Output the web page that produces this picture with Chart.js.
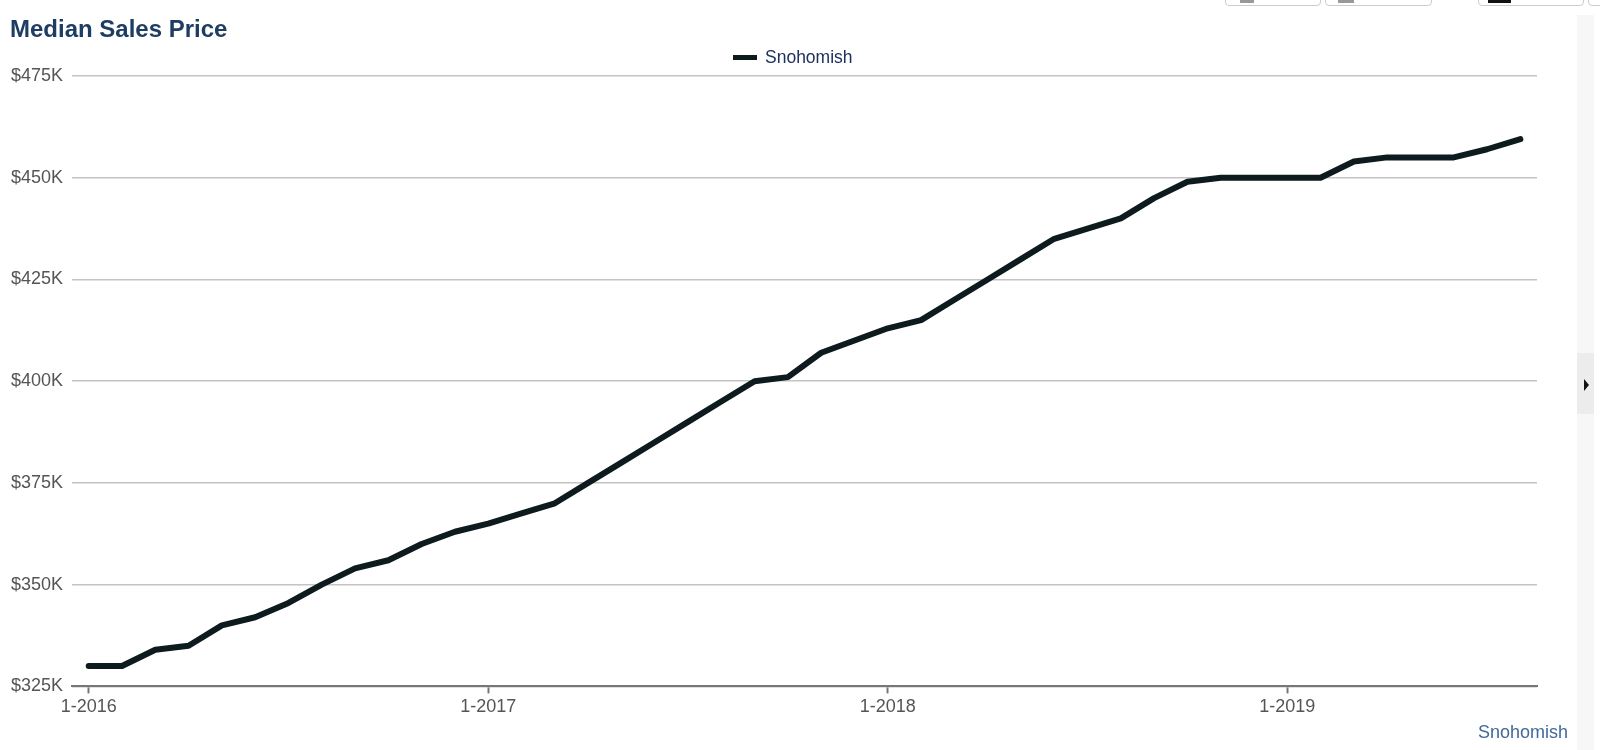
<!DOCTYPE html>
<html>
<head>
<meta charset="utf-8">
<script src="https://cdn.jsdelivr.net/npm/chart.js@4.4.0/dist/chart.umd.min.js"></script>
<style>
	html, body { margin: 0; padding: 0; background: #fff; width: 1600px; height: 750px; overflow: hidden; font-family: "Liberation Sans", Arial, Helvetica, sans-serif; }
	.title { position: absolute; left: 10px; top: 17px; font-size: 24px; font-weight: bold; color: #1f3d63; line-height: 1; }
	.legend { position: absolute; left: 733px; top: 49px; display: flex; align-items: center; font-size: 17.5px; color: #1d3160; line-height: 1; }
	.legend .swatch { width: 24px; height: 5px; background: #0d1b1e; margin-right: 8px; }
	.corner { position: absolute; right: 32px; top: 723px; font-size: 18px; color: #41699a; line-height: 1; }
	.wrap { position: absolute; left: 0; top: 0; width: 1577px; height: 750px; }
	.side { position: absolute; left: 1577px; top: 15px; width: 17px; bottom: 0; background: #f7f7f7; }
	.side .tab { position: absolute; left: 0; top: 338px; width: 17px; height: 61px; background: #ececec; }
	.side .arrow { position: absolute; left: 7px; top: 26px; width: 0; height: 0; border-left: 5px solid #111; border-top: 6px solid transparent; border-bottom: 6px solid transparent; }
	.btn { position: absolute; top: -25px; height: 29px; border: 1px solid #ccc; border-radius: 4px; background: #fff; }
	.btn .ic { position: absolute; bottom: 2px; height: 4px; }
</style>
</head>
<body>
<div class="wrap"><canvas id="priceChart"></canvas></div>
<div class="title">Median Sales Price</div>
<div class="legend"><span class="swatch"></span><span>Snohomish</span></div>
<div class="corner">Snohomish</div>
<div class="side"><div class="tab"><div class="arrow"></div></div></div>
<div class="btn" style="left:1225px;width:94px;"><div class="ic" style="left:14px;width:14px;background:#999;"></div></div>
<div class="btn" style="left:1325px;width:105px;"><div class="ic" style="left:12px;width:16px;background:#999;"></div></div>
<div class="btn" style="left:1478px;width:104px;"><div class="ic" style="left:9px;width:23px;background:#111;"></div></div>
<div class="btn" style="left:1588px;width:40px;"></div>
<script>
const months = [
	"1-2016", "2-2016", "3-2016", "4-2016", "5-2016", "6-2016", "7-2016", "8-2016", "9-2016", "10-2016", "11-2016", "12-2016",
	"1-2017", "2-2017", "3-2017", "4-2017", "5-2017", "6-2017", "7-2017", "8-2017", "9-2017", "10-2017", "11-2017", "12-2017",
	"1-2018", "2-2018", "3-2018", "4-2018", "5-2018", "6-2018", "7-2018", "8-2018", "9-2018", "10-2018", "11-2018", "12-2018",
	"1-2019", "2-2019", "3-2019", "4-2019", "5-2019", "6-2019", "7-2019", "8-2019"
];
const snohomishPrice = [
	330000, 330000, 334000, 335000, 340000, 342000, 345500, 350000, 354000, 356000, 360000, 363000,
	365000, 367500, 370000, 375000, 380000, 385000, 390000, 395000, 400000, 401000, 407000, 410000,
	413000, 415000, 420000, 425000, 430000, 435000, 437500, 440000, 445000, 449000, 450000, 450000,
	450000, 450000, 454000, 455000, 455000, 455000, 457000, 459500
];
const yMin = 325000;
const yMax = 475000;
const yStep = 25000;

document.addEventListener("DOMContentLoaded", function () {
	Chart.defaults.font.family = '"Liberation Sans", Arial, Helvetica, sans-serif';
	const ctx = document.getElementById("priceChart").getContext("2d");

	new Chart(ctx, {
		type: "line",
		data: {
			labels: months,
			datasets: [
				{
					label: "Snohomish",
					data: snohomishPrice,
					borderColor: "#0d1b1e",
					backgroundColor: "#0d1b1e",
					borderWidth: 6,
					borderCapStyle: "round",
					borderJoinStyle: "round",
					pointRadius: 0,
					tension: 0,
				},
			],
		},
		options: {
			responsive: true,
			maintainAspectRatio: false,
			animation: false,
			layout: {
				padding: { left: 2, right: 40, top: 76, bottom: 29 },
			},
			plugins: {
				legend: { display: false },
				title: { display: false },
				tooltip: { enabled: false },
			},
			scales: {
				x: {
					offset: true,
					border: { display: true, color: "#777", width: 2 },
					grid: {
						drawOnChartArea: false,
						drawTicks: true,
						tickLength: 7,
						tickWidth: 2,
						tickColor: function (c) {
							return months[c.index] && months[c.index].indexOf("1-") === 0 ? "#777" : "rgba(0,0,0,0)";
						},
					},
					ticks: {
						autoSkip: false,
						maxRotation: 0,
						padding: 3,
						color: "#555",
						font: { size: 18 },
						callback: function (value) {
							const l = this.getLabelForValue(value);
							return l.indexOf("1-") === 0 ? l : "";
						},
					},
				},
				y: {
					min: yMin,
					max: yMax,
					border: { display: false },
					grid: { color: "#c4c4c4", lineWidth: 1.5, drawTicks: false },
					ticks: {
						stepSize: yStep,
						padding: 9,
						color: "#555",
						font: { size: 18 },
						callback: function (v) {
							return "$" + v / 1000 + "K";
						},
					},
				},
			},
		},
	});
});
</script>
</body>
</html>
